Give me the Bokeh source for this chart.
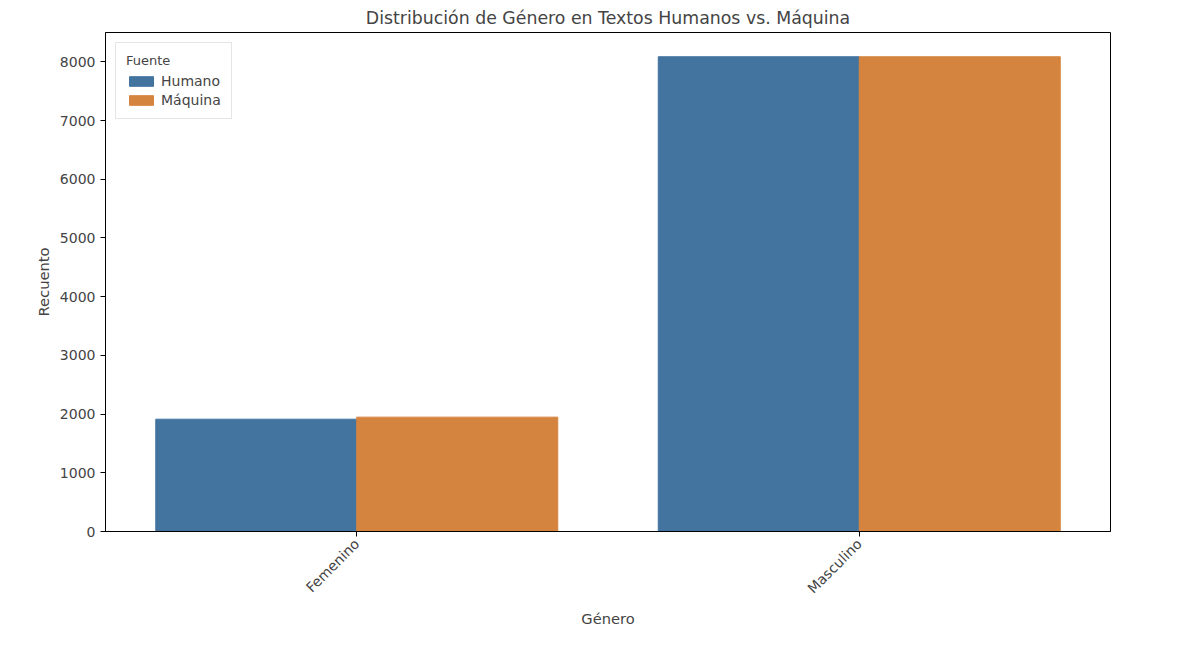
from math import pi
from bokeh.plotting import figure
from bokeh.models import FixedTicker, Legend, LegendItem
from bokeh.embed import file_html
from bokeh.resources import INLINE

generos = ["Femenino", "Masculino"]
humano = [1913, 8087]
maquina = [1948, 8087]

p = figure(width=1180, height=630, output_backend="svg", toolbar_location=None,
           x_range=(-0.5, 1.5), y_range=(0, 8500),
           title="Distribución de Género en Textos Humanos vs. Máquina",
           min_border_left=105, min_border_right=70, min_border_top=20, min_border_bottom=90)
p.title.align = "center"
p.title.text_font = "DejaVu Sans"
p.title.text_font_style = "normal"
p.title.text_font_size = "13pt"

xs = list(range(len(generos)))
r1 = p.vbar(x=[x - 0.2 for x in xs], top=humano, width=0.4, color="#4374a0")
r2 = p.vbar(x=[x + 0.2 for x in xs], top=maquina, width=0.4, color="#d5843f")

p.xaxis.ticker = FixedTicker(ticks=xs)
p.xaxis.major_label_overrides = {i: g for i, g in enumerate(generos)}
p.xaxis.major_label_orientation = pi / 4
p.yaxis.ticker = FixedTicker(ticks=[0, 1000, 2000, 3000, 4000, 5000, 6000, 7000, 8000])
p.xaxis.axis_label = "Género"
p.yaxis.axis_label = "Recuento"
for ax in (p.xaxis, p.yaxis):
    ax.axis_label_text_font = "DejaVu Sans"
    ax.axis_label_text_font_style = "normal"
    ax.axis_label_text_font_size = "11pt"
    ax.major_label_text_font = "DejaVu Sans"
    ax.major_label_text_font_size = "10.5pt"
    ax.minor_tick_line_color = None
    ax.major_tick_out = 5
    ax.major_tick_in = 0
p.grid.visible = False
p.outline_line_color = "black"

legend = Legend(items=[LegendItem(label="Humano", renderers=[r1]),
                       LegendItem(label="Máquina", renderers=[r2])],
                location="top_left", title="Fuente")
legend.title_text_font = "DejaVu Sans"
legend.title_text_font_style = "normal"
legend.label_text_font = "DejaVu Sans"
legend.label_text_font_size = "10.5pt"
legend.border_line_color = "#cccccc"
legend.glyph_width = 30
legend.glyph_height = 12
p.add_layout(legend)

open("out.html", "w").write(file_html(p, INLINE))
